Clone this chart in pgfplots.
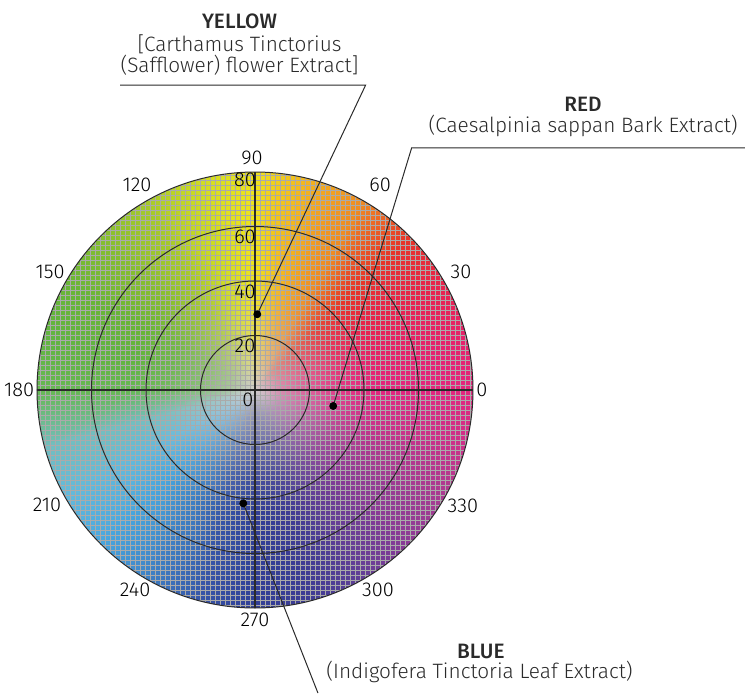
\documentclass[border=0pt]{standalone}
\usepackage{fontspec}
\setmainfont{Fira Sans}[UprightFont=* Light, BoldFont=* Medium]
\usepackage{pgfplots}
\pgfplotsset{compat=1.18}
\definecolor{cg}{HTML}{D2CDCD}
\definecolor{h0}{HTML}{E4247E}
\definecolor{h15}{HTML}{E6216A}
\definecolor{h30}{HTML}{E8234C}
\definecolor{h45}{HTML}{E73528}
\definecolor{h60}{HTML}{EF8A22}
\definecolor{h75}{HTML}{F3B11E}
\definecolor{h90}{HTML}{EEE41C}
\definecolor{h105}{HTML}{CFDC22}
\definecolor{h120}{HTML}{A6CA2A}
\definecolor{h135}{HTML}{86BE30}
\definecolor{h150}{HTML}{6AB636}
\definecolor{h165}{HTML}{62B440}
\definecolor{h180}{HTML}{66B852}
\definecolor{h195}{HTML}{72BEC0}
\definecolor{h210}{HTML}{62B9DC}
\definecolor{h225}{HTML}{48A6DE}
\definecolor{h240}{HTML}{3E82C6}
\definecolor{h255}{HTML}{3756A8}
\definecolor{h270}{HTML}{303E96}
\definecolor{h285}{HTML}{3E3C94}
\definecolor{h300}{HTML}{623E96}
\definecolor{h315}{HTML}{8A3A96}
\definecolor{h330}{HTML}{A83A92}
\definecolor{h345}{HTML}{CC308A}
\definecolor{linec}{HTML}{2A2A2A}
\definecolor{labc}{HTML}{404040}
\definecolor{gridc}{HTML}{AAAAAA}
\begin{document}
\begin{tikzpicture}
\useasboundingbox (-127.5pt,-151.5pt) rectangle (245.5pt,195pt);
% ---------- colour wheel ----------
\begin{axis}[at={(0pt,0pt)}, anchor=origin, scale only axis, width=218pt, height=218pt,
  view={0}{90}, xmin=-80, xmax=80, ymin=-80, ymax=80, zmin=-1, zmax=1, hide axis]
\addplot3[surf, shader=interp, mesh/color input=explicit, point meta=explicit symbolic]
  table[x expr={\thisrow{r}*cos(\thisrow{a})}, y expr={\thisrow{r}*sin(\thisrow{a})}, z expr=0, meta=c] {
a r c
0 0 color=cg
0 10 color=h0!40!cg
0 20 color=h0!65!cg
0 32 color=h0!88!cg
0 45 color=h0
0 80.35 color=h0

15 0 color=cg
15 10 color=h15!40!cg
15 20 color=h15!65!cg
15 32 color=h15!88!cg
15 45 color=h15
15 80.35 color=h15

30 0 color=cg
30 10 color=h30!40!cg
30 20 color=h30!65!cg
30 32 color=h30!88!cg
30 45 color=h30
30 80.35 color=h30

45 0 color=cg
45 10 color=h45!40!cg
45 20 color=h45!65!cg
45 32 color=h45!88!cg
45 45 color=h45
45 80.35 color=h45

60 0 color=cg
60 10 color=h60!40!cg
60 20 color=h60!65!cg
60 32 color=h60!88!cg
60 45 color=h60
60 80.35 color=h60

75 0 color=cg
75 10 color=h75!40!cg
75 20 color=h75!65!cg
75 32 color=h75!88!cg
75 45 color=h75
75 80.35 color=h75

90 0 color=cg
90 10 color=h90!40!cg
90 20 color=h90!65!cg
90 32 color=h90!88!cg
90 45 color=h90
90 80.35 color=h90

105 0 color=cg
105 10 color=h105!40!cg
105 20 color=h105!65!cg
105 32 color=h105!88!cg
105 45 color=h105
105 80.35 color=h105

120 0 color=cg
120 10 color=h120!40!cg
120 20 color=h120!65!cg
120 32 color=h120!88!cg
120 45 color=h120
120 80.35 color=h120

135 0 color=cg
135 10 color=h135!40!cg
135 20 color=h135!65!cg
135 32 color=h135!88!cg
135 45 color=h135
135 80.35 color=h135

150 0 color=cg
150 10 color=h150!40!cg
150 20 color=h150!65!cg
150 32 color=h150!88!cg
150 45 color=h150
150 80.35 color=h150

165 0 color=cg
165 10 color=h165!40!cg
165 20 color=h165!65!cg
165 32 color=h165!88!cg
165 45 color=h165
165 80.35 color=h165

180 0 color=cg
180 10 color=h180!40!cg
180 20 color=h180!65!cg
180 32 color=h180!88!cg
180 45 color=h180
180 80.35 color=h180

195 0 color=cg
195 10 color=h195!40!cg
195 20 color=h195!65!cg
195 32 color=h195!88!cg
195 45 color=h195
195 80.35 color=h195

210 0 color=cg
210 10 color=h210!40!cg
210 20 color=h210!65!cg
210 32 color=h210!88!cg
210 45 color=h210
210 80.35 color=h210

225 0 color=cg
225 10 color=h225!40!cg
225 20 color=h225!65!cg
225 32 color=h225!88!cg
225 45 color=h225
225 80.35 color=h225

240 0 color=cg
240 10 color=h240!40!cg
240 20 color=h240!65!cg
240 32 color=h240!88!cg
240 45 color=h240
240 80.35 color=h240

255 0 color=cg
255 10 color=h255!40!cg
255 20 color=h255!65!cg
255 32 color=h255!88!cg
255 45 color=h255
255 80.35 color=h255

270 0 color=cg
270 10 color=h270!40!cg
270 20 color=h270!65!cg
270 32 color=h270!88!cg
270 45 color=h270
270 80.35 color=h270

285 0 color=cg
285 10 color=h285!40!cg
285 20 color=h285!65!cg
285 32 color=h285!88!cg
285 45 color=h285
285 80.35 color=h285

300 0 color=cg
300 10 color=h300!40!cg
300 20 color=h300!65!cg
300 32 color=h300!88!cg
300 45 color=h300
300 80.35 color=h300

315 0 color=cg
315 10 color=h315!40!cg
315 20 color=h315!65!cg
315 32 color=h315!88!cg
315 45 color=h315
315 80.35 color=h315

330 0 color=cg
330 10 color=h330!40!cg
330 20 color=h330!65!cg
330 32 color=h330!88!cg
330 45 color=h330
330 80.35 color=h330

345 0 color=cg
345 10 color=h345!40!cg
345 20 color=h345!65!cg
345 32 color=h345!88!cg
345 45 color=h345
345 80.35 color=h345

360 0 color=cg
360 10 color=h0!40!cg
360 20 color=h0!65!cg
360 32 color=h0!88!cg
360 45 color=h0
360 80.35 color=h0
};
\end{axis}
% ---------- grid, rings, labels ----------
\begin{axis}[at={(0pt,0pt)}, anchor=origin, scale only axis, width=218pt, height=218pt,
  xmin=-80, xmax=80, ymin=-80, ymax=80, clip=false,
  axis line style={draw=none}, major tick length=0pt,
  xtick distance=1.835, ytick distance=1.835, xticklabels={}, yticklabels={},
  grid=major, major grid style={color=gridc, line width=0.42pt},
  every node/.style={font=\fontsize{9}{10}\selectfont, text=labc, inner sep=0pt}]
\fill[white, even odd rule] (axis cs:-83,-83) rectangle (axis cs:83,83) (axis cs:0,0) circle[radius=80];
\draw[linec, line width=0.5pt] (axis cs:0,0) circle[radius=20];
\draw[linec, line width=0.5pt] (axis cs:0,0) circle[radius=40];
\draw[linec, line width=0.5pt] (axis cs:0,0) circle[radius=60];
\draw[linec, line width=0.5pt] (axis cs:0,0) circle[radius=80];
\addplot[linec, line width=0.65pt] coordinates {(-80,0) (80,0)};
\addplot[linec, line width=0.65pt] coordinates {(0,-80) (0,80)};
% leader lines
\addplot[linec, line width=0.5pt] coordinates {(-49.5,111.9) (40.6,111.9) (0.84,27.8)};
\addplot[linec, line width=0.5pt] coordinates {(179.8,88.9) (57.5,88.9) (28.7,-5.87)};
\addplot[linec, line width=0.5pt] coordinates {(-4.29,-41.6) (23.1,-111.2)};
% samples
\addplot[only marks, mark=*, mark size=1.75pt, color=black] coordinates {(0.84,27.8) (28.7,-5.87) (-4.29,-41.6)};
% radial labels
\node at (axis cs:-3.67,77.06) {80};
\node at (axis cs:-3.67,56.1) {60};
\node at (axis cs:-3.67,36.0) {40};
\node at (axis cs:-3.67,16.1) {20};
\node at (axis cs:-2.57,-3.67) {0};
% angle labels
\node at (axis cs:-1.1,85.1) {90};
\node at (axis cs:45.9,75.2) {60};
\node at (axis cs:75.6,43.3) {30};
\node at (axis cs:83.3,0) {0};
\node at (axis cs:76.3,-42.6) {330};
\node at (axis cs:45.1,-73.4) {300};
\node at (axis cs:0,-84.4) {270};
\node at (axis cs:-44.0,-73.4) {240};
\node at (axis cs:-76.3,-42.2) {210};
\node at (axis cs:-86.6,0) {180};
\node at (axis cs:-75.2,43.3) {150};
\node at (axis cs:-43.3,75.2) {120};
% annotations
\begin{scope}[every node/.style={font=\fontsize{10.4}{12}\selectfont, text=linec, inner sep=0pt, anchor=base}]
\node at (axis cs:-5.69,132.8) {\bfseries YELLOW};
\node at (axis cs:-5.69,124.3) {[Carthamus Tinctorius};
\node at (axis cs:-5.69,116.6) {(Safflower) flower Extract]};
\node at (axis cs:120.4,102.2) {\bfseries RED};
\node at (axis cs:120.4,94.5) {(Caesalpinia sappan Bark Extract)};
\node at (axis cs:82.9,-98.5) {\bfseries BLUE};
\node at (axis cs:82.4,-105.7) {(Indigofera Tinctoria Leaf Extract)};
\end{scope}
\end{axis}
\end{tikzpicture}
\end{document}
